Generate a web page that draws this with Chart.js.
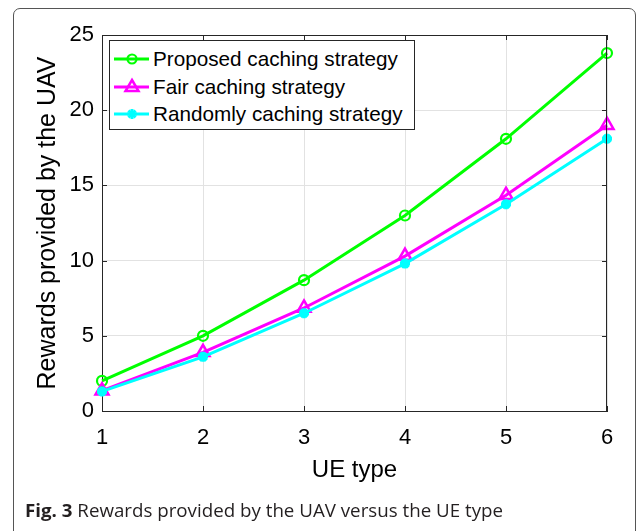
<!DOCTYPE html>
<html>
<head>
<meta charset="utf-8">
<script src="https://cdn.jsdelivr.net/npm/chart.js@4/dist/chart.umd.min.js"></script>
<style>
  html, body { margin:0; padding:0; background:#fff; width:640px; height:531px; overflow:hidden; }
  #frame { position:absolute; left:13px; top:8px; width:623px; height:600px; box-sizing:border-box;
           border:1px solid #555; border-radius:7px; }
  #wrap { position:absolute; left:0; top:0; width:640px; height:531px; }
  #legend { position:absolute; left:109px; top:40px; width:306px; height:90px; box-sizing:border-box;
            border:1px solid #262626; background:#fff; font-family:"Liberation Sans", Arial, sans-serif;
            font-size:20.7px; color:#000; }
  .row { position:absolute; left:0; height:28px; display:flex; align-items:center; white-space:nowrap; }
  .row svg { margin-left:4px; margin-right:4px; }
  #caption { position:absolute; left:25px; top:498px; font-family:"Open Sans", sans-serif; font-size:17.5px;
             color:#231f20; white-space:nowrap; transform-origin:0 0; }
  #caption b { font-weight:700; }
</style>
</head>
<body>
<div id="frame"></div>
<div id="wrap"><canvas id="c" width="640" height="531"></canvas></div>
<div id="legend"></div>
<div id="caption"><b>Fig. 3</b> Rewards provided by the UAV versus the UE type</div>
<script>
// ---- data ----
const categories = [1, 2, 3, 4, 5, 6];
const proposed = [2.0, 5.0, 8.7, 13.0, 18.1, 23.8];
const fair = [1.35, 3.9, 6.85, 10.3, 14.35, 19.0];
const randomly = [1.3, 3.6, 6.5, 9.8, 13.75, 18.1];
const seriesNames = ['Proposed caching strategy', 'Fair caching strategy', 'Randomly caching strategy'];
const yTicks = [0, 5, 10, 15, 20, 25];
const xTitle = 'UE type';
const yTitle = 'Rewards provided by the UAV';

const colors = ['#00ff00', '#ff00ff', '#00ffff'];
const styles = ['circle', 'triangle', 'star'];
const radii = [5, 7.5, 5];
const bws = [2.2, 2.5, 3.5];
const allVals = [proposed, fair, randomly];

const FONT = '"Liberation Sans", Arial, sans-serif';

const datasets = allVals.map((vals, k) => ({
  label: seriesNames[k],
  data: categories.map((c, i) => ({x: c, y: vals[i]})),
  borderColor: colors[k],
  backgroundColor: 'rgba(255,255,255,0)',
  borderWidth: 3,
  pointStyle: styles[k],
  pointRadius: radii[k],
  pointBorderWidth: bws[k],
  pointBorderColor: colors[k],
  pointBackgroundColor: 'rgba(255,255,255,0)',
  tension: 0,
  clip: false,
  order: 2 - k
}));

const boxPlugin = {
  id: 'box',
  afterDraw(chart) {
    const {ctx, chartArea: a, scales} = chart;
    ctx.save();
    ctx.strokeStyle = '#262626';
    ctx.lineWidth = 1;
    ctx.beginPath();
    ctx.moveTo(a.left, a.top + 0.5); ctx.lineTo(a.right, a.top + 0.5);
    ctx.moveTo(a.right - 0.5, a.top); ctx.lineTo(a.right - 0.5, a.bottom);
    const L = 5;
    scales.y.ticks.forEach(t => {
      const y = Math.round(scales.y.getPixelForValue(t.value)) + 0.5;
      ctx.moveTo(a.left, y); ctx.lineTo(a.left + L, y);
      ctx.moveTo(a.right, y); ctx.lineTo(a.right - L, y);
    });
    scales.x.ticks.forEach(t => {
      const x = Math.round(scales.x.getPixelForValue(t.value)) + 0.5;
      ctx.moveTo(x, a.bottom); ctx.lineTo(x, a.bottom - L);
      ctx.moveTo(x, a.top); ctx.lineTo(x, a.top + L);
    });
    ctx.stroke();
    ctx.restore();
  }
};

const chart = new Chart(document.getElementById('c'), {
  type: 'line',
  data: { datasets },
  options: {
    responsive: false,
    animation: false,
    layout: { padding: { left: 0, right: 33, top: 35, bottom: 0 } },
    plugins: { legend: { display: false }, tooltip: { enabled: false } },
    scales: {
      x: {
        type: 'linear', min: 1, max: 6,
        afterFit: s => { s.height = 120; },
        afterBuildTicks: s => { s.ticks = categories.map(v => ({value: v})); },
        ticks: { font: { family: FONT, size: 22 }, color: '#000', padding: 14, maxRotation: 0 },
        grid: { color: '#e2e2e2', drawTicks: false, lineWidth: 1 },
        border: { color: '#262626', width: 1 },
        title: { display: true, text: xTitle, font: { family: FONT, size: 24 }, color: '#000',
                 padding: { top: 0, bottom: 46 } }
      },
      y: {
        min: 0, max: 25,
        afterFit: s => { s.width = 102; },
        afterBuildTicks: s => { s.ticks = yTicks.map(v => ({value: v})); },
        ticks: { font: { family: FONT, size: 22 }, color: '#000', padding: 8 },
        grid: { color: '#e2e2e2', drawTicks: false, lineWidth: 1 },
        border: { color: '#262626', width: 1 },
        title: { display: true, text: yTitle, font: { family: FONT, size: 25 }, color: '#000',
                 padding: { top: 33, bottom: 0 } }
      }
    }
  },
  plugins: [boxPlugin]
});

// HTML legend built from the chart datasets
const leg = document.getElementById('legend');
const rowCenters = [18, 46, 73];
chart.data.datasets.forEach((ds, k) => {
  const row = document.createElement('div');
  row.className = 'row';
  row.style.top = (rowCenters[k] - 14) + 'px';
  let marker = '';
  const c = ds.borderColor;
  if (ds.pointStyle === 'circle') marker = `<circle cx="18" cy="10" r="4.5" fill="none" stroke="${c}" stroke-width="2.2"/>`;
  else if (ds.pointStyle === 'triangle') marker = `<polygon points="18,3 24.5,14 11.5,14" fill="none" stroke="${c}" stroke-width="2.5"/>`;
  else marker = `<g stroke="${c}" stroke-width="3"><line x1="18" y1="5" x2="18" y2="15"/><line x1="13" y1="10" x2="23" y2="10"/><line x1="14.5" y1="6.5" x2="21.5" y2="13.5"/><line x1="21.5" y1="6.5" x2="14.5" y2="13.5"/></g>`;
  row.innerHTML = `<svg width="35" height="20" viewBox="0 0 35 20"><line x1="0" y1="10" x2="35" y2="10" stroke="${c}" stroke-width="3"/>${marker}</svg><span>${ds.label}</span>`;
  leg.appendChild(row);
});

// fit caption width to reference span
const cap = document.getElementById('caption');
const w = cap.getBoundingClientRect().width;
cap.style.transform = `scaleX(${478 / w})`;
</script>
</body>
</html>
